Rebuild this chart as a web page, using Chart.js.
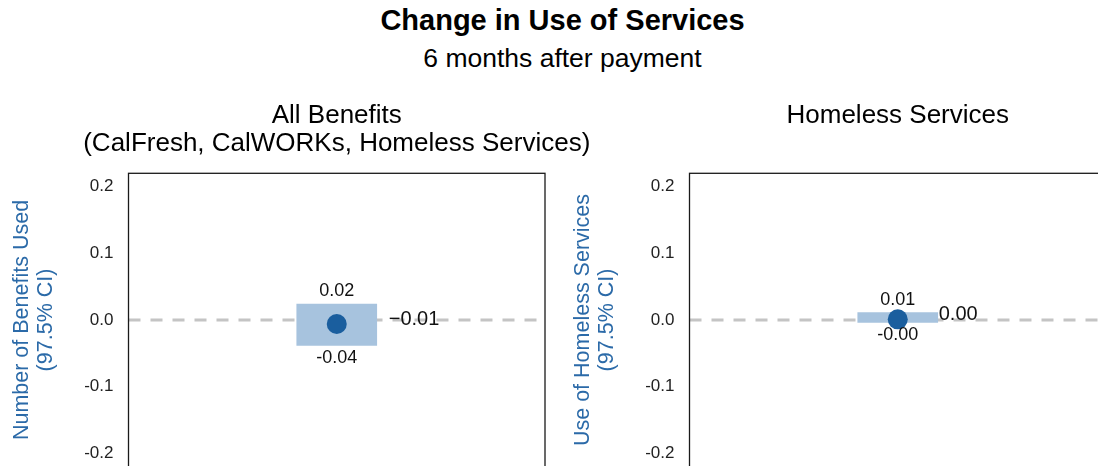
<!DOCTYPE html>
<html>
<head>
<meta charset="utf-8">
<script src="https://cdn.jsdelivr.net/npm/chart.js@4.4.1/dist/chart.umd.min.js"></script>
<style>
  html, body { margin: 0; padding: 0; width: 1098px; height: 466px; overflow: hidden; background: #fff; }
  .head { position: absolute; left: 0; width: 1125px; text-align: center; color: #000;
          font-family: "Liberation Sans", Arial, sans-serif; white-space: nowrap; }
  #title { top: 5.5px; font-size: 29px; line-height: 29px; font-weight: bold; }
  #subtitle { top: 45px; font-size: 26.5px; line-height: 26.5px; }
  canvas { position: absolute; top: 0; }
  #c0 { left: 0; }
  #c1 { left: 561px; }
</style>
</head>
<body>
<div class="head" id="title">Change in Use of Services</div>
<div class="head" id="subtitle">6 months after payment</div>
<canvas id="c0" width="640" height="520"></canvas>
<canvas id="c1" width="560" height="520"></canvas>
<script>
const panelTitles = [
  ["All Benefits", "(CalFresh, CalWORKs, Homeless Services)"],
  ["Homeless Services"]
];
const axisTitles = [
  ["Number of Benefits Used", "(97.5% CI)"],
  ["Use of Homeless Services", "(97.5% CI)"]
];
const estimates = [-0.006, 0.001];
const ciLower = [-0.038, -0.0035];
const ciUpper = [0.024, 0.011];
const yTicks = [-0.2, -0.1, 0.0, 0.1, 0.2];
const yRange = [-0.22, 0.22];

const FONT = '"Liberation Sans", Arial, sans-serif';

// estimate label uses a true minus sign like the original
function estText(v) {
  return v.toFixed(2).replace('-', '\u2212');
}

// zero line, value labels, frame and panel title
const panelDecor = {
  id: 'panelDecor',
  beforeDatasetsDraw(chart) {
    const { ctx, chartArea: a, scales: { y } } = chart;
    const y0 = y.getPixelForValue(0);
    ctx.save();
    ctx.strokeStyle = '#c4c4c4';
    ctx.lineWidth = 3;
    ctx.setLineDash([12, 10]);
    ctx.beginPath();
    ctx.moveTo(a.left, y0);
    ctx.lineTo(a.right, y0);
    ctx.stroke();
    ctx.restore();
  },
  afterDatasetsDraw(chart, args, opts) {
    const { ctx, chartArea: a, scales: { y } } = chart;
    const i = opts.index;
    const x = chart.getDatasetMeta(0).data[0].x;
    ctx.save();
    ctx.font = '18px ' + FONT;
    ctx.fillStyle = '#111';
    ctx.textAlign = 'center';
    ctx.textBaseline = 'middle';
    ctx.fillText(ciUpper[i].toFixed(2), x, y.getPixelForValue(ciUpper[i]) - 12.5);
    ctx.fillText(ciLower[i].toFixed(2), x, y.getPixelForValue(ciLower[i]) + 12.5);
    ctx.font = '20px ' + FONT;
    ctx.textAlign = 'left';
    ctx.textBaseline = 'alphabetic';
    ctx.fillText(estText(estimates[i]), x + opts.estDx, y.getPixelForValue(estimates[i]) + 0.5);

    ctx.strokeStyle = '#1a1a1a';
    ctx.lineWidth = 1.3;
    ctx.strokeRect(a.left, a.top, a.right - a.left, a.bottom - a.top);

    ctx.font = '26px ' + FONT;
    ctx.fillStyle = '#000';
    ctx.textAlign = 'center';
    panelTitles[i].forEach((t, k) => {
      ctx.fillText(t, (a.left + a.right) / 2, a.top - 50 + k * 28);
    });
    ctx.restore();
  }
};

function makeChart(id, i, padRight, estDx) {
  new Chart(document.getElementById(id), {
    type: 'bar',
    data: {
      labels: [''],
      datasets: [
        {
          type: 'line',
          data: [estimates[i]],
          showLine: false,
          pointRadius: 10,
          pointHoverRadius: 10,
          pointBackgroundColor: '#1a5e9e',
          pointBorderWidth: 0,
          order: 0
        },
        {
          type: 'bar',
          data: [[ciLower[i], ciUpper[i]]],
          backgroundColor: '#a7c3de',
          barThickness: 80,
          order: 1
        }
      ]
    },
    options: {
      responsive: false,
      animation: false,
      events: [],
      layout: { padding: { top: 173.3, bottom: 53.3, left: 0, right: padRight } },
      plugins: {
        legend: { display: false },
        tooltip: { enabled: false },
        panelDecor: { index: i, estDx: estDx }
      },
      scales: {
        x: { display: false },
        y: {
          min: yRange[0],
          max: yRange[1],
          afterBuildTicks: s => { s.ticks = yTicks.map(v => ({ value: v })); },
          afterFit: s => { s.width = 128.5; },
          grid: { display: false, drawTicks: false },
          border: { display: false },
          ticks: {
            padding: 15,
            color: '#222',
            font: { family: FONT, size: 17 },
            callback: v => v.toFixed(1)
          },
          title: {
            display: true,
            text: axisTitles[i],
            color: '#2b6aa8',
            font: { family: FONT, size: 21.5, lineHeight: 1.12 },
            padding: { top: 10, bottom: 0 }
          }
        }
      }
    },
    plugins: [panelDecor]
  });
}

makeChart('c0', 0, 95, 52);
makeChart('c1', 1, 15, 41);
</script>
</body>
</html>
